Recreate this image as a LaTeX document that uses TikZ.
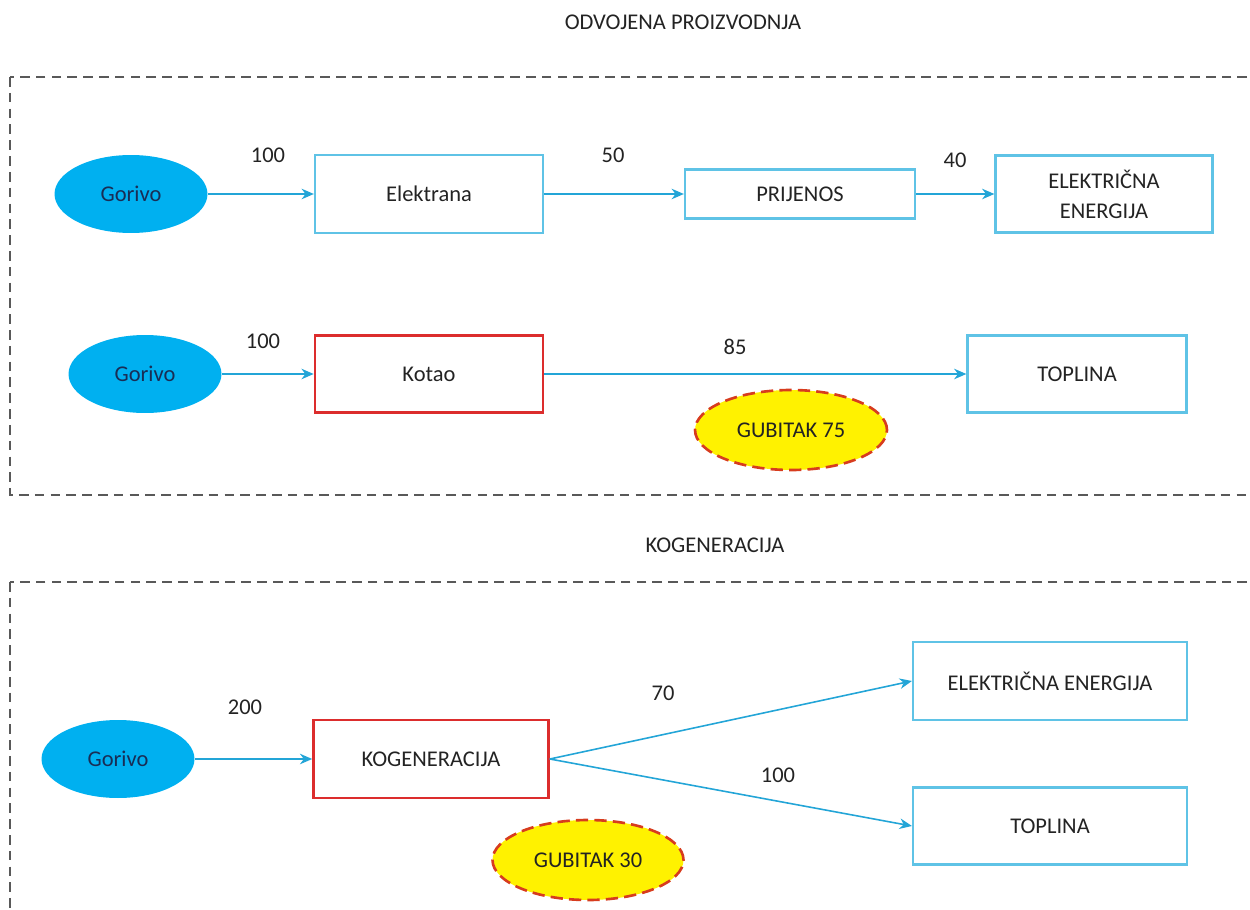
\documentclass[tikz,border=0pt]{standalone}
\usepackage{fontspec}
\setmainfont{Carlito}
\usetikzlibrary{shapes.geometric,arrows.meta}
\definecolor{gorivoplava}{RGB}{0,176,240}
\definecolor{tamnoplava}{RGB}{25,45,85}
\definecolor{rubplava}{RGB}{95,195,230}
\definecolor{strelplava}{RGB}{35,165,215}
\definecolor{crvena}{RGB}{220,45,45}
\definecolor{gubitakrub}{RGB}{215,60,30}
\definecolor{tekst}{RGB}{35,35,35}

\begin{document}
\begin{tikzpicture}[
x=0.02cm, y=-0.02cm,
font=\fontsize{12.8}{15}\selectfont, text=tekst,
gorivo/.style={ellipse, fill=gorivoplava, minimum width=3.06cm, minimum height=1.56cm, inner sep=0pt, text=tamnoplava},
kutija/.style={draw=rubplava, line width=1.3pt, minimum width=4.56cm, minimum height=1.56cm, align=center, inner sep=0pt},
kotao/.style={kutija, draw=crvena, line width=1.5pt},
gubitak/.style={ellipse, draw=gubitakrub, line width=1.5pt, dash pattern=on 7pt off 3.5pt, fill=yellow, minimum width=3.84cm, minimum height=1.6cm, inner sep=0pt},
strelica/.style={draw=strelplava, line width=0.9pt, -{Stealth[length=7pt,width=6pt]}},
okvir/.style={draw=black!65, line width=0.8pt, dash pattern=on 5.5pt off 3.5pt},
broj/.style={inner sep=0pt}
]

\useasboundingbox (0,0) rectangle (1250,909);

% okviri
\draw[okvir] (10,77) rectangle (1270,495);
\draw[okvir] (10,582) rectangle (1270,1000);

\node[broj] (naslov1) at (683,22) {ODVOJENA PROIZVODNJA};
\node[broj] (naslov2) at (715,545) {KOGENERACIJA};

% elektricna energija
\node[gorivo] (g1) at (131,194) {Gorivo};
\node[kutija] (elektrana) at (429,194) {Elektrana};
\node[kutija, minimum width=4.6cm, minimum height=0.98cm] (prijenos) at (800,194) {PRIJENOS};
\node[kutija, minimum width=4.34cm, minimum height=1.54cm] (ee1) at (1104,194) {ELEKTRIČNA\\[2pt]ENERGIJA};

\draw[strelica] (g1) -- (elektrana);
\draw[strelica] (elektrana) -- (prijenos);
\draw[strelica] (prijenos) -- (ee1);

\node[broj] (b100a) at (268,155) {100};
\node[broj] (b50) at (613,155) {50};
\node[broj] (b40) at (955,160) {40};

% toplina
\node[gorivo] (g2) at (145,374) {Gorivo};
\node[kotao, minimum height=1.54cm] (kotao) at (429,374) {Kotao};
\node[kutija, minimum width=4.38cm, minimum height=1.54cm] (top1) at (1077,374) {TOPLINA};

\draw[strelica] (g2) -- (kotao);
\draw[strelica] (kotao) -- (top1);

\node[broj] (b100b) at (263,341) {100};
\node[broj] (b85) at (735,347) {85};
\node[gubitak] (gub75) at (791,430) {GUBITAK 75};

% kogeneracija
\node[gorivo] (g3) at (118,759) {Gorivo};
\node[kotao, minimum width=4.7cm] (kog) at (431,759) {KOGENERACIJA};
\node[kutija, minimum width=5.48cm] (ee2) at (1050,681) {ELEKTRIČNA ENERGIJA};
\node[kutija, minimum width=5.48cm, minimum height=1.54cm] (top2) at (1050,826) {TOPLINA};

\draw[strelica] (g3) -- (kog);
\draw[strelica] (kog.east) -- (ee2.west);
\draw[strelica] (kog.east) -- (top2.west);

\node[broj] (b200) at (245,707) {200};
\node[broj] (b70) at (663,693) {70};
\node[broj] (b100c) at (778,775) {100};
\node[gubitak, minimum width=3.82cm] (gub30) at (588,860) {GUBITAK 30};

\end{tikzpicture}
\end{document}
